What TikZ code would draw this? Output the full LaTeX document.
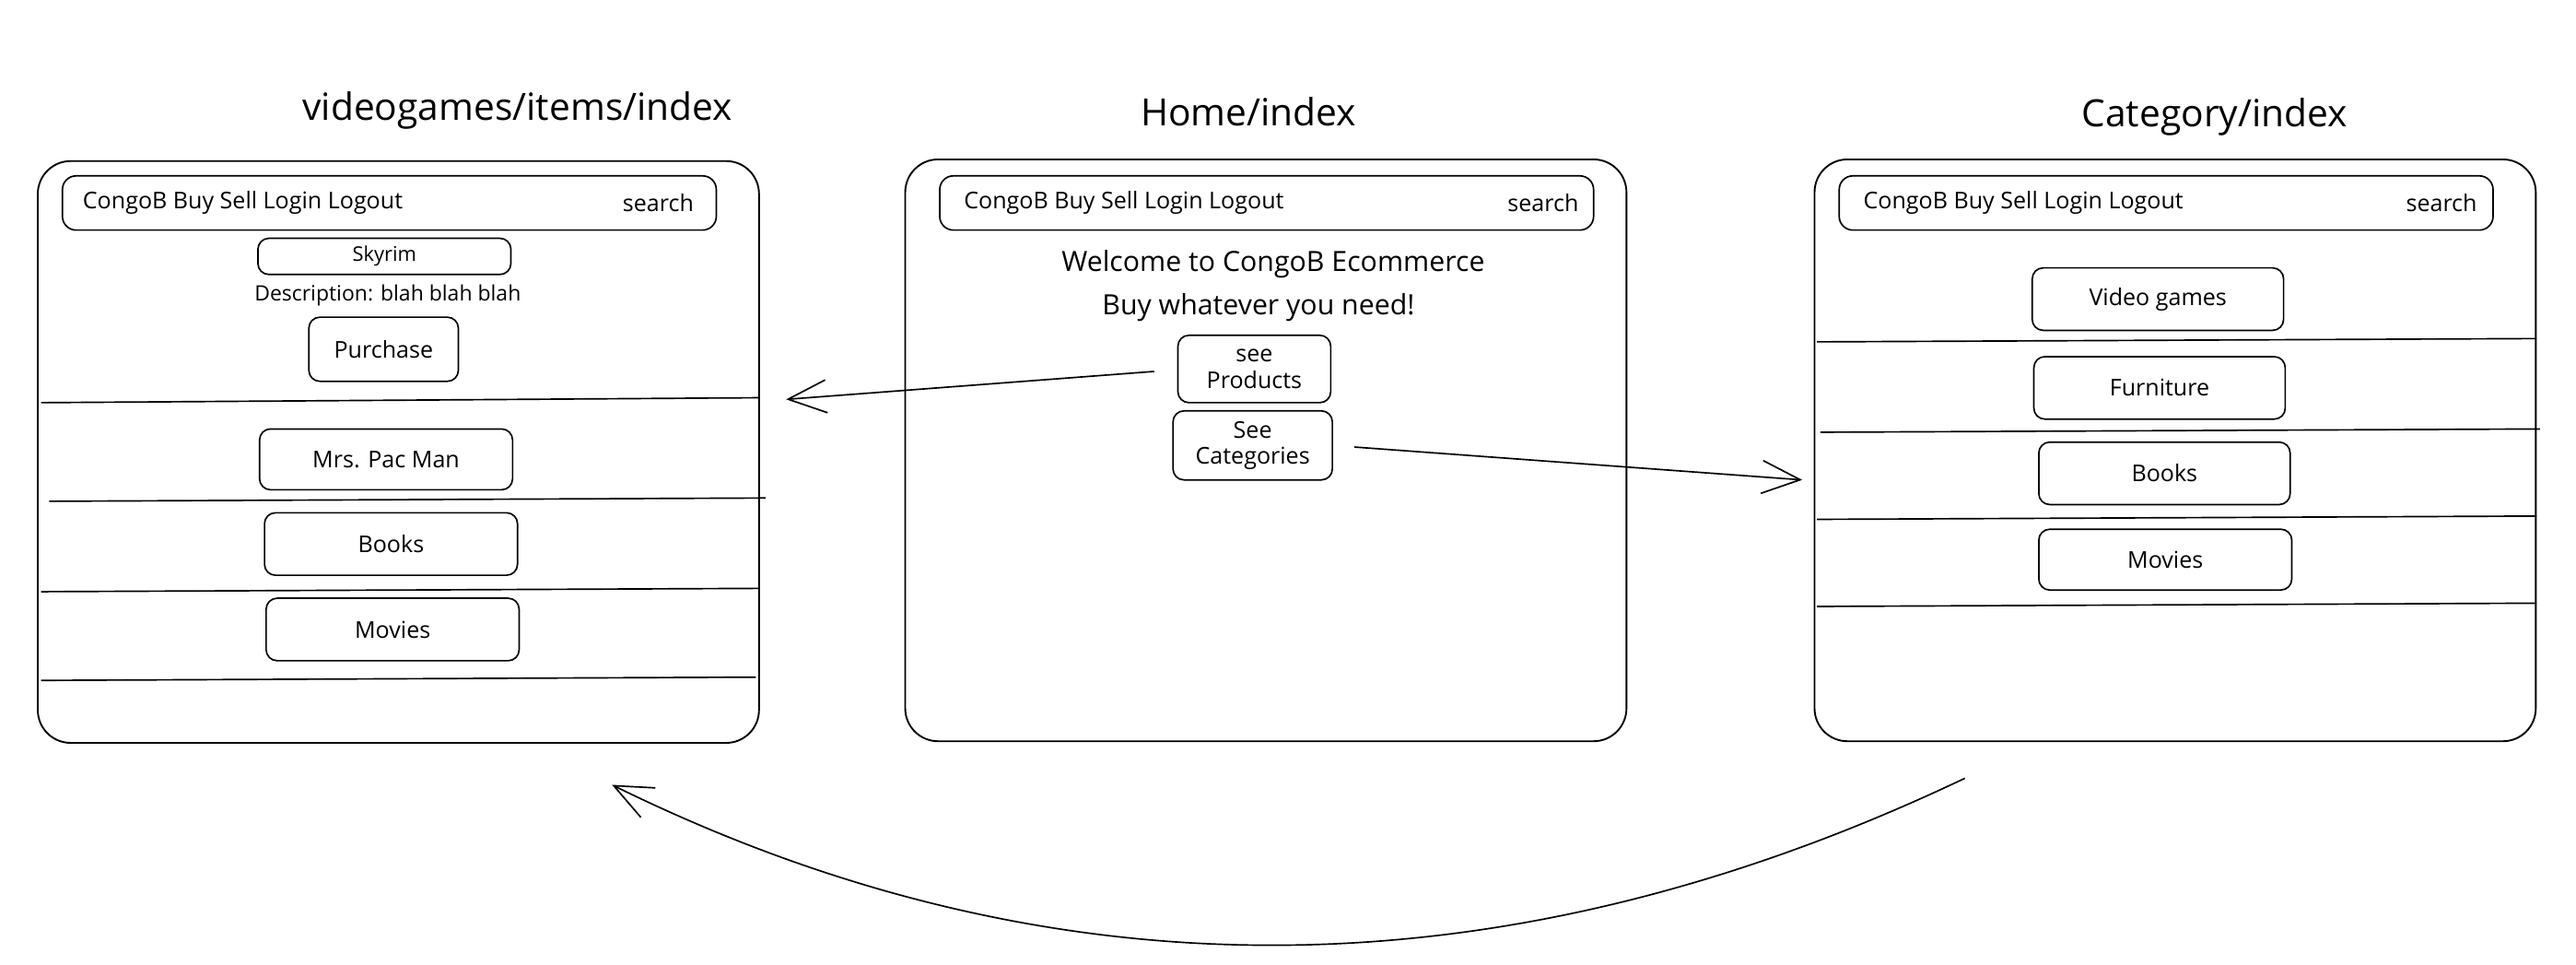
\documentclass[tikz,border=0pt]{standalone}
\usepackage{fontspec}
\setmainfont{Open Sans}
\usetikzlibrary{arrows.meta,positioning}

\begin{document}
\begin{tikzpicture}[
        x=0.3mm, y=-0.3mm,
        frame/.style={rectangle,draw,line width=0.9pt,rounded corners=6mm,minimum width=131.7mm,minimum height=106.2mm},
        navbar/.style={rectangle,draw,line width=0.8pt,rounded corners=2.5mm,minimum width=119.4mm,minimum height=9.9mm},
        btn/.style={rectangle,draw,line width=0.8pt,rounded corners=2mm,inner sep=0pt,align=center,font=\fontsize{12}{13.5}\selectfont},
        navtext/.style={inner sep=0pt,font=\fontsize{12}{14}\selectfont},
        title/.style={font=\fontsize{19.5}{22}\selectfont},
        bigtext/.style={font=\fontsize{14.5}{17}\selectfont},
        divider/.style={line width=0.8pt},
        arrow/.style={-{Straight Barb[length=7mm,width=6mm]},line width=0.8pt}
    ]
        \useasboundingbox (0,0) rectangle (1568,587);

        % the three pages
        \node[frame] (vg) at (242.5,275) {};
        \node[frame] (home) at (770.5,274) {};
        \node[frame] (cat) at (1324,274) {};

        \node[title] (vgtitle) at (315,67) {videogames/items/index};
        \node[title] (hometitle) at (760,68) {Home/index};
        \node[title] (cattitle) at (1348,71) {Category/index};

        % nav bars
        \node[navbar] (vgnav) at (237,123.5) {};
        \node[navtext,anchor=west] (vgmenu) at ([xshift=3.8mm]vgnav.west) {CongoB Buy Sell Login Logout};
        \node[navtext,anchor=east] (vgsearch) at ([xshift=-4.2mm]vgnav.east) {search};

        \node[navbar] (homenav) at (771,123.5) {};
        \node[navtext,anchor=west] (homemenu) at ([xshift=4.5mm]homenav.west) {CongoB Buy Sell Login Logout};
        \node[navtext,anchor=east] (homesearch) at ([xshift=-2.8mm]homenav.east) {search};

        \node[navbar] (catnav) at (1318.5,123.5) {};
        \node[navtext,anchor=west] (catmenu) at ([xshift=4.5mm]catnav.west) {CongoB Buy Sell Login Logout};
        \node[navtext,anchor=east] (catsearch) at ([xshift=-3mm]catnav.east) {search};

        % videogames/items/index
        \node[btn,minimum width=46.2mm,minimum height=6.6mm,font=\fontsize{10.5}{12}\selectfont] (skyrim) at (234,156) {Skyrim};
        \node[font=\fontsize{11}{13}\selectfont] (desc) at (236,180) {Description: blah blah blah};
        \node[btn,minimum width=27.3mm,minimum height=11.7mm] (buy) at (233.5,212.5) {Purchase};
        \node[btn,minimum width=46.2mm,minimum height=11.1mm] (pacman) at (235,279.5) {Mrs. Pac Man};
        \node[btn,minimum width=46.2mm,minimum height=11.4mm] (vgbooks) at (238,331) {Books};
        \node[btn,minimum width=46.2mm,minimum height=11.4mm] (vgmovies) at (239,383) {Movies};
        \draw[divider] (25,245) -- (462,242);
        \draw[divider] (30,305) -- (466,303);
        \draw[divider] (25,360) -- (462,358);
        \draw[divider] (25,414) -- (460,412);

        % Home/index
        \node[bigtext] (welcome) at (775,161) {Welcome to CongoB Ecommerce};
        \node[bigtext] (slogan) at (766,187) {Buy whatever you need!};
        \node[btn,minimum width=27.9mm,minimum height=12.3mm] (prod) at (763.5,224.5) {see\\Products};
        \node[btn,minimum width=29.1mm,minimum height=12.6mm] (cats) at (762.5,271) {See\\Categories};

        % Category/index
        \node[btn,minimum width=45.9mm,minimum height=11.4mm] (games) at (1313.5,182) {Video games};
        \node[btn,minimum width=45.9mm,minimum height=11.4mm] (furn) at (1314.5,236) {Furniture};
        \node[btn,minimum width=45.9mm,minimum height=11.4mm] (catbooks) at (1317.5,288) {Books};
        \node[btn,minimum width=46.2mm,minimum height=11.1mm] (catmovies) at (1318,340.5) {Movies};
        \draw[divider] (1106,208) -- (1544,206);
        \draw[divider] (1108,263) -- (1546,261);
        \draw[divider] (1106,316) -- (1544,314);
        \draw[divider] (1106,369) -- (1544,367);

        % links between pages
        \draw[arrow] ([shift={(-14,1.5)}]prod.west) -- ([shift={(16,-32)}]vg.east);
        \draw[arrow] ([shift={(13,1)}]cats.east) -- ([shift={(-7,18)}]cat.west);
        \draw[arrow] ([shift={(-128,22)}]cat.south) .. controls (930,600) and (654,616) .. ([shift={(130,25)}]vg.south);
    \end{tikzpicture}
\end{document}
